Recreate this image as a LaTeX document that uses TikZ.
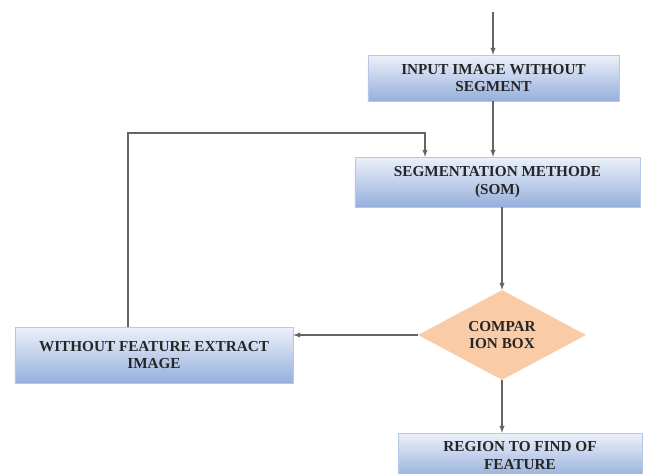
\documentclass[tikz,border=0pt]{standalone}
\usepackage{fontspec}
\setmainfont{Liberation Serif}
\usetikzlibrary{positioning,calc,shapes.geometric,shadows}
\definecolor{boxtop}{RGB}{236,241,250}
\definecolor{boxbot}{RGB}{150,175,220}
\definecolor{peach}{RGB}{249,203,167}
\definecolor{wire}{RGB}{100,100,100}
\tikzstyle{procbox} = [draw=boxbot!70!white, top color=boxtop, bottom color=boxbot, rectangle, align=center, text=black!85, font=\bfseries\fontsize{13}{15}\selectfont, drop shadow={opacity=0.35, shadow xshift=1pt, shadow yshift=-1pt}]
\tikzstyle{decision} = [diamond, draw=none, fill=peach, aspect=1.87, inner sep=0pt, align=center, text=black!85, font=\bfseries\fontsize{13}{14.5}\selectfont]
\tikzset{wire/.style={draw=wire, line width=1pt, >=latex}}

\begin{document}
\begin{tikzpicture}[x=0.03cm, y=-0.03cm]
        \clip (0,0) rectangle (645,473);
        \useasboundingbox (0,0) rectangle (645,473);

        \node [procbox, minimum width=7.53cm, minimum height=1.38cm] (input) at (493.5,78) {INPUT IMAGE WITHOUT\\SEGMENT};
        \node [procbox, minimum width=8.55cm, minimum height=1.5cm] (seg) at (497.5,182) {SEGMENTATION METHODE\\(SOM)};
        \node [decision, minimum width=5.04cm, minimum height=2.7cm] (cmp) at (502,335) {COMPAR\\ION BOX};
        \node [procbox, minimum width=8.34cm, minimum height=1.68cm] (noft) at (154,355) {WITHOUT FEATURE EXTRACT\\IMAGE};
        \node [procbox, minimum width=7.32cm, minimum height=1.35cm] (region) at (520,455.5) {REGION TO FIND OF\\FEATURE};

        \coordinate (start) at (493,12);
        \coordinate (fbl) at (128,133);
        \coordinate (fbr) at (425,133);

        \draw [wire, ->] (start) -- (start |- input.north);
        \draw [wire, ->] (input.south -| start) -- (start |- seg.north);
        \draw [wire, ->] (seg.south -| cmp.north) -- (cmp.north);
        \draw [wire, ->] (cmp.west) -- (cmp.west -| noft.east);
        \draw [wire, ->] (cmp.south) -- (cmp.south |- region.north);

        % loop back to segmentation
        \draw [wire, ->] (noft.north -| fbl) -- (fbl) -- (fbr) -- (fbr |- seg.north);
\end{tikzpicture}
\end{document}
